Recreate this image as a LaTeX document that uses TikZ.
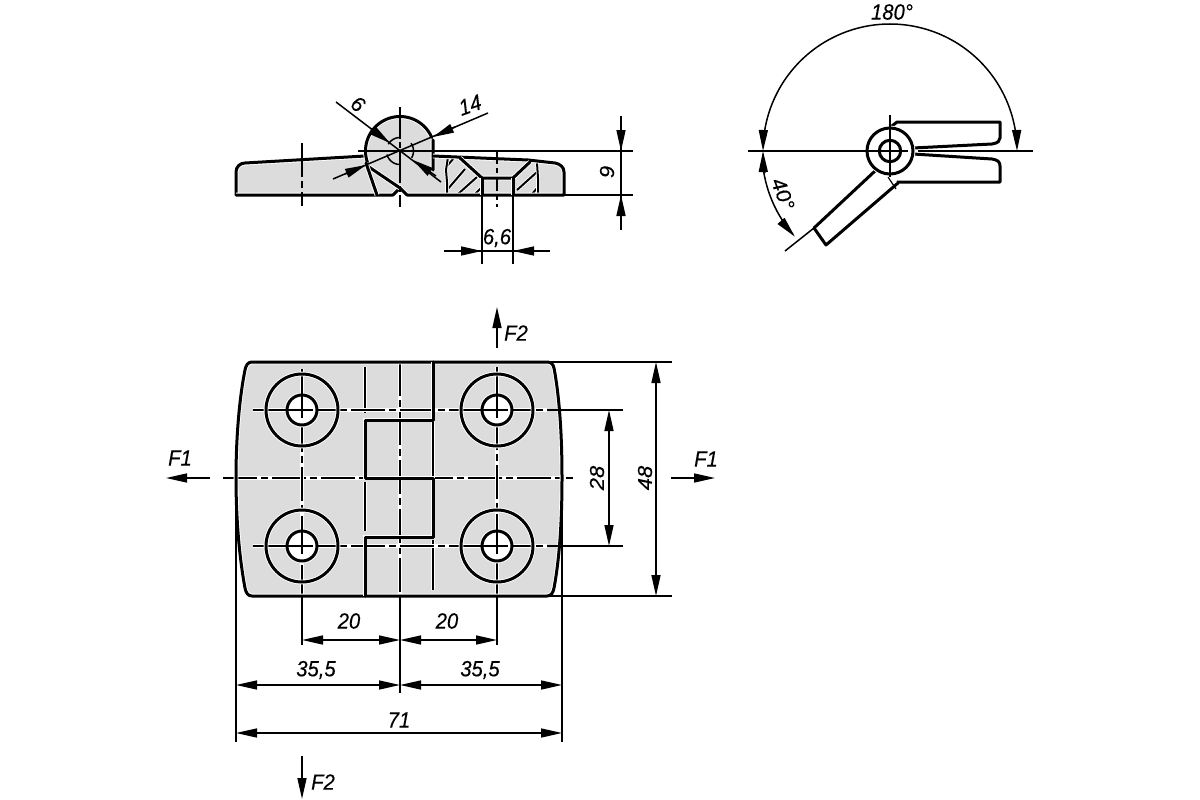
\documentclass[tikz,border=0pt]{standalone}
\usepackage{fontspec}
\setmainfont[ItalicFeatures={FakeBold=0.25}]{Liberation Sans}
\usetikzlibrary{arrows.meta}
\definecolor{partgray}{HTML}{DCDCDC}
\tikzset{
  thick line/.style={line width=3pt,line join=round,line cap=round,black,preaction={draw=white,line width=4.8pt}},
  thin line/.style={line width=1.5pt,black},
  halo line/.style={line width=1.5pt,black,preaction={draw=white,line width=3.2pt}},
  hatch line/.style={line width=2pt,black,preaction={draw=white,line width=3.6pt}},
  center line/.style={line width=1.5pt,black,dash pattern=on 34pt off 4pt on 7pt off 4pt},
  center halo/.style={center line,preaction={draw=white,solid,line width=3.2pt}},
  dim/.style={line width=1.5pt,black,-{Stealth[length=21pt,width=9pt,inset=0pt]}},
  dimlabel/.style={font=\itshape\fontsize{22}{22}\selectfont,inner sep=0pt,black,xscale=.92},
}
\begin{document}
\begin{tikzpicture}[x=1pt,y=-1pt]
\useasboundingbox (0,0) rectangle (1200,800);
\fill[white] (0,0) rectangle (1200,800);

% ---- side view ----
\fill[partgray] (236,195) -- (236,172) .. controls (236,167) and (240,163) .. (245,163) -- (365,156)
  -- plot[domain=188:23,samples=40] ({400+34.5*cos(\x)},{151-34.5*sin(\x)})
  -- (433,156) -- (528,160) -- (555,163) .. controls (560,164) and (564,167) .. (564,172) -- (564,195) -- (407,195) -- (400,188) -- (393,195) -- cycle;
% section hatching
\draw[hatch line] (447,166) -- (454,158) (447,190) -- (465,169) (458,194) -- (477,177) (475,194) -- (481,188)
  (517,190) -- (537,172) (532,194) -- (538,187);
\draw[hatch line] (448,157) -- (446,170) -- (447,182) -- (447,195);
\draw[hatch line] (537,163) -- (538,178) -- (538,195);
% outline
\draw[thick line] (236,195) -- (236,172) .. controls (236,167) and (240,163) .. (245,163) -- (365,156);
\draw[thick line] (433,170) -- (433,140)
  plot[domain=23:200,samples=40] ({400+34.5*cos(\x)},{151-34.5*sin(\x)});
\draw[thick line] (433,156) -- (528,160) -- (555,163) .. controls (560,164) and (564,167) .. (564,172) -- (564,195) -- (407,195) -- (400,188) -- (393,195) -- (236,195);
\draw[thick line] (366,165) -- (400,188);
\draw[thick line] (366,163) -- (377,195);
\draw[thick line] (460,158) -- (482,178) -- (513,178) -- (530,162);
\draw[thick line] (482,178) -- (482,195) (513,178) -- (513,195);
\draw[thin line] (358,151) -- (633,151);
% centre lines
\draw[center line] (302,143) -- (302,206);
\draw[center line,dash pattern=on 32pt off 3pt on 6pt off 3pt] (400,107) -- (400,207);
\draw[center line,dash pattern=on 14pt off 4pt on 5pt off 4pt] (497,150) -- (497,207);
% small dashed circle
\draw[line width=1.5pt] plot[domain=95:150,samples=12] ({400+13.5*cos(\x)},{151-13.5*sin(\x)});
\draw[line width=1.5pt] plot[domain=195:265,samples=12] ({400+13.5*cos(\x)},{151-13.5*sin(\x)});
\draw[line width=1.5pt] plot[domain=-30:35,samples=12] ({400+13.5*cos(\x)},{151-13.5*sin(\x)});
% diameter dims
\draw[thin line] (336,102) -- (441,182);
\draw[thin line] (333,179) -- (488,113);
\draw[dim] (371,129) -- (390,143);
\draw[dim] (436,176) -- (413,160);
\draw[dim] (455,127) -- (433,137);
\draw[dim] (345,174) -- (366,165);
\node[dimlabel,rotate=-40] (t6) at (358,104) {6};
\node[dimlabel,rotate=18] (t14) at (470,105) {14};
% 9 dim
\draw[thin line] (564,195) -- (633,195);
\draw[thin line] (621,116) -- (621,230);
\draw[dim] (621,125) -- (621,151);
\draw[dim] (621,221) -- (621,195);
\node[dimlabel,rotate=90] (t9) at (607,172) {9};
% 6,6 dim
\draw[thin line] (482,195) -- (482,264) (513,195) -- (513,264);
\draw[thin line] (444,251) -- (550,251);
\draw[dim] (460,251) -- (482,251);
\draw[dim] (535,251) -- (513,251);
\node[dimlabel] (t66) at (497,238) {6,6};

% ---- open-angle view ----
\draw[thick line] (892,126) -- (897,122) -- (1000,122) -- (1000,138) .. controls (1000,141) and (998,143) .. (992,144) -- (913,148);
\draw[thick line] (913,154) -- (992,159) .. controls (998,160) and (1000,162) .. (1000,166) -- (1000,182) -- (897,182);
\draw[thick line] (875,171) -- (814,228) -- (826,245) -- (898,183);
\draw[line width=1.2pt] (888,177) -- (896,189);
\fill[white] (890,151) circle[radius=23];
\draw[thick line] (890,151) circle[radius=23];
\draw[thick line] (890,151) circle[radius=10.7];
\draw[thin line] (748,151) -- (908,151) (918,151) -- (1033,151);
\draw[thin line] (890,115) -- (890,177);
\draw[thin line] (785,251) -- (814,228);
\draw[dim] plot[domain=90:180,samples=50] ({890+127*cos(\x)},{151-127*sin(\x)});
\draw[dim] plot[domain=90:0,samples=50] ({890+127*cos(\x)},{151-127*sin(\x)});
\draw[dim] plot[domain=190:180,samples=8] ({890+127*cos(\x)},{151-127*sin(\x)});
\draw[dim] plot[domain=185:222,samples=30] ({890+128*cos(\x)},{151-128*sin(\x)});
\node[dimlabel] (t180) at (892,12) {180°};
\node[dimlabel,rotate=-68] (t40) at (783,194) {40°};

% ---- plan view ----
\path[fill=partgray] (252,362) -- (547,362) .. controls (551,362) and (553,364) .. (554,368)
  .. controls (560,400) and (562,440) .. (562,478) .. controls (562,516) and (560,556) .. (554,588)
  .. controls (553,593) and (551,596) .. (547,596) -- (252,596)
  .. controls (248,596) and (246,593) .. (245,588) .. controls (239,556) and (236,516) .. (236,478)
  .. controls (236,440) and (239,400) .. (245,370) .. controls (246,365) and (248,362) .. (252,362) -- cycle;
% thin interior lines
\draw[halo line] (365,367) -- (365,413) (365,482) -- (365,531) (433,422) -- (433,477) (433,540) -- (433,590);
\draw[center halo] (400,362) -- (400,595);
\draw[center halo] (223,478) -- (573,478);
\draw[center halo] (253,410) -- (547,410);
\draw[center halo] (253,546) -- (547,546);
\draw[center halo] (302,369) -- (302,595);
\draw[center halo] (497,367) -- (497,595);
% holes
\foreach \hx/\hy in {302/410,497/410,302/546,497/546}{
  \draw[thick line] (\hx,\hy) circle[radius=36];
  \fill[white] (\hx,\hy) circle[radius=15];
  \draw[thick line] (\hx,\hy) circle[radius=15];
  \draw[thin line] (\hx,\hy-25) -- (\hx,\hy+8) (\hx-25,\hy) -- (\hx+7,\hy);
  \draw[thin line,dash pattern=on 5pt off 3pt] (\hx+6,\hy) -- (\hx+25,\hy);
}
% outline
\draw[thick line] (252,362) -- (547,362) .. controls (551,362) and (553,364) .. (554,368)
  .. controls (560,400) and (562,440) .. (562,478) .. controls (562,516) and (560,556) .. (554,588)
  .. controls (553,593) and (551,596) .. (547,596) -- (252,596)
  .. controls (248,596) and (246,593) .. (245,588) .. controls (239,556) and (236,516) .. (236,478)
  .. controls (236,440) and (239,400) .. (245,370) .. controls (246,365) and (248,362) .. (252,362) -- cycle;
\draw[thick line] (433,362) -- (433,420) -- (365,420) -- (365,478) -- (433,478) -- (433,537) -- (365,537) -- (365,596);
% extension lines
\draw[thin line] (547,362) -- (672,362) (547,596) -- (672,596);
\draw[thin line] (547,410) -- (623,410) (547,546) -- (623,546);
\draw[thin line] (236,500) -- (236,742) (562,500) -- (562,742);
\draw[thin line] (302,596) -- (302,645) (497,596) -- (497,645) (400,596) -- (400,693);
% vertical dims
\draw[dim] (656,420) -- (656,362);
\draw[dim] (656,420) -- (656,596);
\draw[dim] (609,440) -- (609,410);
\draw[dim] (609,440) -- (609,546);
\node[dimlabel,rotate=90] (t48) at (645,478) {48};
\node[dimlabel,rotate=90] (t28) at (597,478) {28};
% horizontal dims
\draw[dim] (350,640) -- (302,640);
\draw[dim] (350,640) -- (400,640);
\draw[dim] (447,640) -- (400,640);
\draw[dim] (447,640) -- (497,640);
\node[dimlabel] (t20a) at (349,621) {20};
\node[dimlabel] (t20b) at (447,621) {20};
\draw[dim] (320,685) -- (236,685);
\draw[dim] (320,685) -- (400,685);
\draw[dim] (480,685) -- (400,685);
\draw[dim] (480,685) -- (562,685);
\node[dimlabel] (t35a) at (316,670) {35,5};
\node[dimlabel] (t35b) at (480,670) {35,5};
\draw[dim] (400,733) -- (236,733);
\draw[dim] (400,733) -- (562,733);
\node[dimlabel] (t71) at (399,720) {71};
% forces
\draw[dim] (210,478) -- (166,478);
\draw[dim] (671,478) -- (715,478);
\draw[dim] (497,348) -- (497,307);
\draw[dim] (302,756) -- (302,799);
\node[dimlabel] (f1a) at (180,458) {F1};
\node[dimlabel] (f1b) at (706,459) {F1};
\node[dimlabel] (f2a) at (516,333) {F2};
\node[dimlabel] (f2b) at (323,782) {F2};
\end{tikzpicture}
\end{document}
